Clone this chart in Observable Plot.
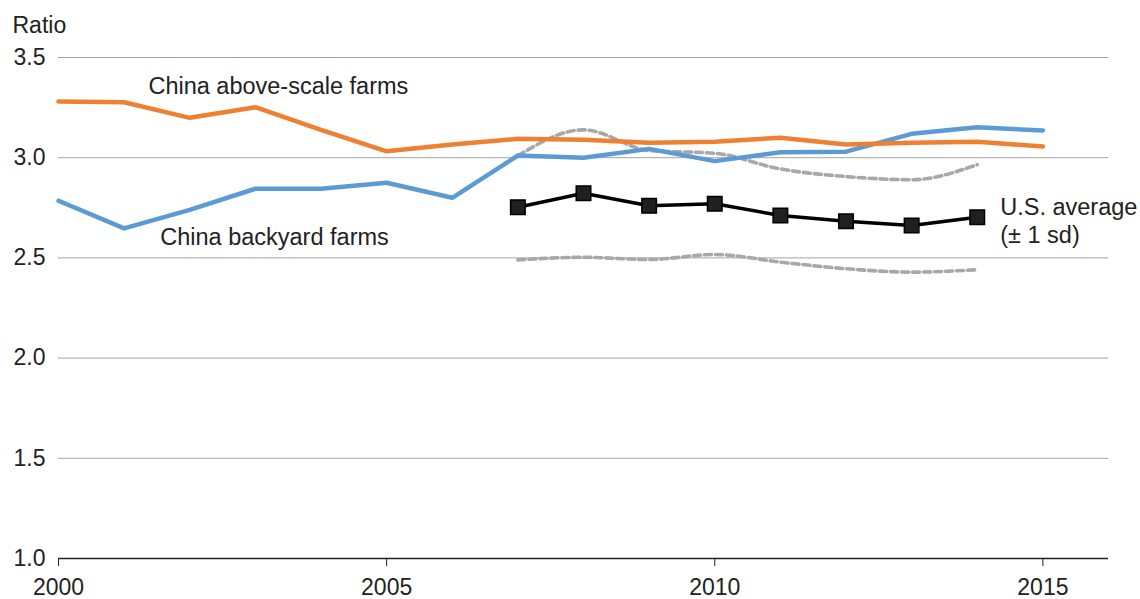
<!DOCTYPE html>
<html>
<head>
<meta charset="utf-8">
<script src="https://cdn.jsdelivr.net/npm/d3@7"></script>
<script src="https://cdn.jsdelivr.net/npm/@observablehq/plot@0.6"></script>
<style>
  html, body { margin: 0; padding: 0; background: #fff; }
  #chart svg { display: block; }
</style>
</head>
<body>
<div id="chart"></div>
<script>
// Years and series values
const chinaYears = [2000, 2001, 2002, 2003, 2004, 2005, 2006, 2007, 2008, 2009, 2010, 2011, 2012, 2013, 2014, 2015];
const aboveScale = [3.28, 3.277, 3.199, 3.252, 3.139, 3.032, 3.066, 3.094, 3.089, 3.074, 3.08, 3.1, 3.066, 3.074, 3.079, 3.056];
const backyard   = [2.785, 2.647, 2.74, 2.845, 2.845, 2.875, 2.80, 3.011, 3.0, 3.044, 2.983, 3.027, 3.03, 3.119, 3.152, 3.136];

const usYears  = [2007, 2008, 2009, 2010, 2011, 2012, 2013, 2014];
const usAvg    = [2.753, 2.823, 2.76, 2.77, 2.712, 2.683, 2.662, 2.703];
const usUpper  = [3.01, 3.139, 3.036, 3.022, 2.944, 2.906, 2.89, 2.965];
const usLower  = [2.49, 2.503, 2.492, 2.517, 2.479, 2.446, 2.429, 2.441];

const xTicks = [2000, 2005, 2010, 2015];
const yTicks = [1.0, 1.5, 2.0, 2.5, 3.0, 3.5];

const china = chinaYears.map((year, i) => ({year, above: aboveScale[i], backyard: backyard[i]}));
const us = usYears.map((year, i) => ({year, avg: usAvg[i], upper: usUpper[i], lower: usLower[i]}));

// Series annotations, anchored in data coordinates
const labels = [
  {year: 2001.37, value: 3.355, text: "China above-scale farms"},
  {year: 2001.55, value: 2.602, text: "China backyard farms"},
  {year: 2014.35, value: 2.7515, text: "U.S. average"},
  {year: 2014.35, value: 2.612, text: "(± 1 sd)"}
];

const chart = Plot.plot({
  width: 1140,
  height: 599,
  marginTop: 57,
  marginBottom: 41,
  marginLeft: 58,
  marginRight: 32,
  style: {fontFamily: "'Liberation Sans', Arial, sans-serif", fontSize: "23px", background: "#fff", color: "#222"},
  x: {domain: [2000, 2016]},
  y: {domain: [1, 3.5]},
  marks: [
    Plot.ruleY(yTicks.filter(d => d > 1), {stroke: "#a3a3a3", strokeWidth: 1}),
    Plot.ruleY([1], {stroke: "#222", strokeWidth: 1.3}),
    Plot.axisX({ticks: xTicks, tickFormat: d => String(d), tickSize: 8, tickPadding: 12, fontSize: 23, label: null, stroke: "#222"}),
    Plot.axisY({ticks: yTicks, tickFormat: d => d.toFixed(1), tickSize: 0, tickPadding: 13, fontSize: 23, label: null}),
    Plot.text(["Ratio"], {frameAnchor: "top-left", dx: -46, dy: -31.5, lineAnchor: "middle", textAnchor: "start", fontSize: 23, fill: "#222"}),
    Plot.line(us, {x: "year", y: "upper", stroke: "#a8a8a8", strokeWidth: 3.6, strokeDasharray: "7,4", curve: "monotone-x"}),
    Plot.line(us, {x: "year", y: "lower", stroke: "#a8a8a8", strokeWidth: 3.6, strokeDasharray: "7,4", curve: "monotone-x"}),
    Plot.line(china, {x: "year", y: "backyard", stroke: "#5b9bd5", strokeWidth: 4.5}),
    Plot.line(china, {x: "year", y: "above", stroke: "#ef8032", strokeWidth: 4.5}),
    Plot.line(us, {x: "year", y: "avg", stroke: "#000", strokeWidth: 3.5}),
    Plot.dot(us, {x: "year", y: "avg", symbol: "square", r: 8.2, fill: "#231f20", stroke: "#000", strokeWidth: 1.5}),
    Plot.text(labels, {x: "year", y: "value", text: "text", fontSize: 23.5, lineAnchor: "middle", textAnchor: "start", fill: "#222"})
  ]
});

document.getElementById("chart").appendChild(chart);
</script>
</body>
</html>
